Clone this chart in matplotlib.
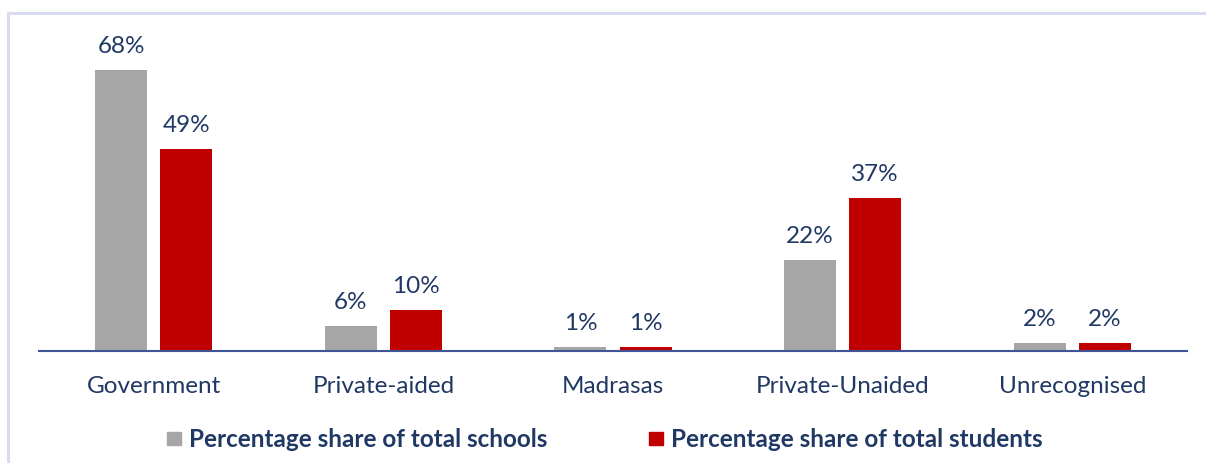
import matplotlib
matplotlib.use("Agg")
import matplotlib.pyplot as plt
from matplotlib.patches import Rectangle
import numpy as np

categories = ["Government", "Private-aided", "Madrasas", "Private-Unaided", "Unrecognised"]
share_schools = [68, 6, 1, 22, 2]
share_students = [49, 10, 1, 37, 2]
series_names = ["Percentage share of total schools", "Percentage share of total students"]

GRAY = "#A6A6A6"
RED = "#C00000"
NAVY = "#203864"
FONT = "Lato"

W, H = 1206, 464
fig = plt.figure(figsize=(W / 100, H / 100), dpi=100)

# light frame around the chart area
fig.patches.append(Rectangle((8 / W, -0.1), 1.2, 1 - 14 / H + 0.1, transform=fig.transFigure,
                             fill=False, edgecolor="#D9DCF0", linewidth=2.2))

ax_bottom = 1 - 352 / H
px_per_pct = 4.13
ymax = 80
ax_h = ymax * px_per_pct / H
ax = fig.add_axes([39 / W, ax_bottom, (1187 - 39) / W, ax_h])

x = np.arange(len(categories))
bw = 0.226
off = 0.142
b1 = ax.bar(x - off, share_schools, bw, color=GRAY)
b2 = ax.bar(x + off, share_students, bw, color=RED)

for bars, vals in ((b1, share_schools), (b2, share_students)):
    for rect, v in zip(bars, vals):
        ax.annotate(f"{v}%", (rect.get_x() + rect.get_width() / 2, rect.get_height()),
                    xytext=(0, 10), textcoords="offset points", ha="center", va="bottom",
                    fontsize=17.5, color=NAVY, family=FONT)

ax.set_xlim(-0.5, len(categories) - 0.5)
ax.set_ylim(0, ymax)
for s in ("top", "right", "left"):
    ax.spines[s].set_visible(False)
ax.spines["bottom"].set_color("#3F5597")
ax.spines["bottom"].set_linewidth(1.5)
ax.set_yticks([])
ax.set_xticks(x)
ax.set_xticklabels(categories, fontsize=17.5, color=NAVY, family=FONT)
ax.tick_params(axis="x", length=0, pad=17)
ax.patch.set_visible(False)

# legend
for (lx, tx), col, name in (((167, 189), GRAY, series_names[0]), ((649, 671), RED, series_names[1])):
    fig.patches.append(Rectangle((lx / W, 1 - 446 / H), 14 / W, 13 / H,
                                 transform=fig.transFigure, color=col))
    fig.text(tx / W, 1 - 440 / H, name, fontsize=17.5, fontweight="bold", color=NAVY,
             family=FONT, va="center", ha="left")

fig.savefig("out.png", dpi=100, facecolor="white")
